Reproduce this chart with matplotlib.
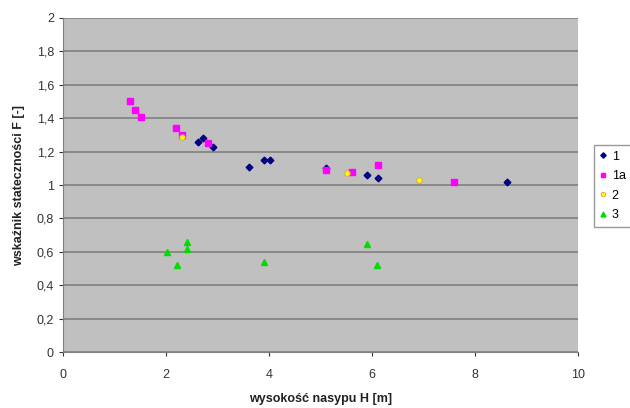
import matplotlib
matplotlib.use("Agg")
import matplotlib.pyplot as plt

# series 1 (dark blue diamonds)
h1 = [2.62, 2.72, 2.91, 3.61, 3.90, 4.02, 5.10, 5.90, 6.12, 8.62]
f1 = [1.26, 1.28, 1.23, 1.11, 1.15, 1.15, 1.10, 1.06, 1.04, 1.02]
# series 1a (magenta squares)
h1a = [1.30, 1.40, 1.51, 2.19, 2.31, 2.82, 5.10, 5.61, 6.12, 7.60]
f1a = [1.50, 1.45, 1.41, 1.34, 1.30, 1.25, 1.09, 1.08, 1.12, 1.02]
# series 2 (yellow circles)
h2 = [2.31, 5.51, 6.91]
f2 = [1.29, 1.07, 1.03]
# series 3 (green triangles)
h3 = [2.02, 2.21, 2.41, 2.41, 3.90, 5.90, 6.10]
f3 = [0.60, 0.52, 0.66, 0.62, 0.54, 0.65, 0.52]

x_ticks = [0, 2, 4, 6, 8, 10]
y_ticks = [0, 0.2, 0.4, 0.6, 0.8, 1, 1.2, 1.4, 1.6, 1.8, 2]
y_tick_labels = ["0", "0,2", "0,4", "0,6", "0,8", "1", "1,2", "1,4", "1,6", "1,8", "2"]

plt.rcParams["font.family"] = ["Liberation Sans", "DejaVu Sans"]

fig = plt.figure(figsize=(6.3, 4.08), dpi=100)
ax = fig.add_axes([0.1, 0.137, 0.817, 0.819])
ax.set_facecolor("#c0c0c0")

# drawing order as in the original sheet: 1, 1a, 2, 3
ax.plot(h1, f1, linestyle="None", marker="D", markersize=3.4, color="#000080",
        markeredgecolor="#000080", label="1", zorder=3)
ax.plot(h1a, f1a, linestyle="None", marker="s", markersize=4.2, color="#ff00ff",
        markeredgecolor="#ff00ff", label="1a", zorder=4)
ax.plot(h2, f2, linestyle="None", marker="o", markersize=4.0, color="#ffff00",
        markeredgecolor="#d9a040", markeredgewidth=0.6, label="2", zorder=5)
ax.plot(h3, f3, linestyle="None", marker="^", markersize=4.4, color="#00dd00",
        markeredgecolor="#00dd00", label="3", zorder=6)

ax.set_xlim(0, 10)
ax.set_ylim(0, 2)
ax.set_xticks(x_ticks)
ax.set_yticks(y_ticks)
ax.set_yticklabels(y_tick_labels)
ax.tick_params(axis="both", labelsize=9, colors="#333333", length=3, width=0.8)
ax.tick_params(axis="x", pad=9)
ax.grid(axis="y", color="#808080", linewidth=1.2)
ax.set_axisbelow(True)

for side in ["top", "right"]:
    ax.spines[side].set_visible(False)
ax.spines["left"].set_color("#808080")
ax.spines["bottom"].set_color("#808080")

ax.set_xlabel("wysokość nasypu H [m]", fontsize=9, fontweight="bold", color="#222222", labelpad=9)
ax.set_ylabel("wskaźnik stateczności F [-]", fontsize=9, fontweight="bold", color="#222222", labelpad=8)

ax.legend(loc="upper left", bbox_to_anchor=(1.031, 0.62), frameon=True, fancybox=False,
          edgecolor="#808080", fontsize=9, handlelength=0.6, handletextpad=0.4,
          borderpad=0.45, labelspacing=0.6, borderaxespad=0, markerscale=0.8)

fig.savefig("out.png", dpi=100)
